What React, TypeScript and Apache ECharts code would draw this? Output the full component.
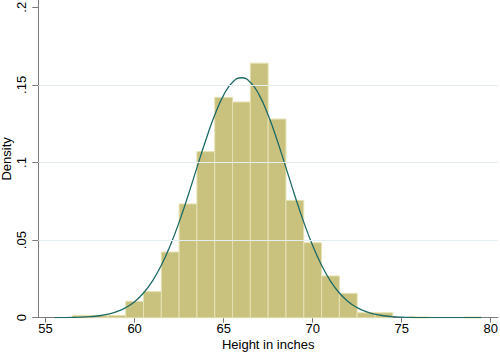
import React, { useEffect, useRef } from "react";
import * as echarts from "echarts";

// Histogram bins (width 1 inch), left edges and densities
const binWidth = 1;
const binStarts = [
  56.5, 57.5, 58.5, 59.5, 60.5, 61.5, 62.5, 63.5, 64.5, 65.5, 66.5, 67.5,
  68.5, 69.5, 70.5, 71.5, 72.5, 73.5, 74.5, 75.5, 76.5, 77.5, 78.5,
];
const densities = [
  0.0015, 0.0015, 0.0015, 0.0106, 0.0168, 0.0423, 0.0733, 0.107, 0.142,
  0.139, 0.164, 0.128, 0.0756, 0.0483, 0.0269, 0.0157, 0.0032, 0.0032, 0,
  0.0005, 0, 0, 0.0005,
];

// Normal density overlay
const curveX = [
  55.5, 56, 56.5, 57, 57.5, 58, 58.5, 59, 59.5, 60, 60.5, 61, 61.5, 62, 62.5,
  63, 63.5, 64, 64.5, 65, 65.5, 66, 66.5, 67, 67.5, 68, 68.5, 69, 69.5, 70,
  70.5, 71, 71.5, 72, 72.5, 73, 73.5, 74, 74.5, 75, 75.5, 76, 76.5, 77, 77.5,
  78, 78.5, 79, 79.5,
];
const curveY = [
  0.00004, 0.000085, 0.00018, 0.00035, 0.00068, 0.00126, 0.00226, 0.0039,
  0.00647, 0.0103, 0.0159, 0.0236, 0.0338, 0.0465, 0.0616, 0.0786, 0.0967,
  0.1145, 0.1306, 0.1434, 0.1517, 0.1546, 0.1517, 0.1434, 0.1306, 0.1145,
  0.0967, 0.0786, 0.0616, 0.0465, 0.0338, 0.0236, 0.0159, 0.0103, 0.00647,
  0.0039, 0.00226, 0.00126, 0.00068, 0.00035, 0.00018, 0.000085, 0.00004,
  0.00002, 0.00001, 0, 0, 0, 0,
];

const xTicks = [55, 60, 65, 70, 75, 80];
const yTicks = [0, 0.05, 0.1, 0.15, 0.2];
const yGrid = [0.05, 0.1, 0.15];

const FONT = "'Liberation Sans', Arial, Helvetica, sans-serif";

export default function App() {
  const ref = useRef<HTMLDivElement>(null);
  useEffect(() => {
    if (!ref.current) return;
    const chart = echarts.init(ref.current, null, { renderer: "svg" });
    const barData = binStarts
      .map((s, i) => [s, s + binWidth, densities[i]])
      .filter((d) => d[2] > 0);
    const axisColor = "#7a7a7a";
    chart.setOption({
      animation: false,
      grid: {
        left: 38.3,
        right: 2,
        top: 0,
        bottom: 38.3,
        containLabel: false,
        outerBoundsMode: "none",
      },
      xAxis: {
        type: "value",
        min: 54.59,
        max: 80.41,
        name: "Height in inches",
        nameLocation: "middle",
        nameGap: 20.5,
        nameMoveOverlap: false,
        nameTextStyle: {
          fontFamily: FONT,
          fontSize: 13,
          lineHeight: 12,
          color: "#000",
        },
        axisLine: { show: true, lineStyle: { color: axisColor, width: 1 } },
        axisTick: {
          show: true,
          length: 5,
          customValues: xTicks,
          lineStyle: { color: axisColor },
        },
        axisLabel: {
          customValues: xTicks,
          margin: 5,
          fontFamily: FONT,
          fontSize: 13,
          lineHeight: 12,
          color: "#000",
        },
        splitLine: { show: false },
      },
      yAxis: {
        type: "value",
        min: 0,
        max: 0.2047,
        name: "Density",
        nameLocation: "middle",
        nameGap: 25,
        nameMoveOverlap: false,
        nameTextStyle: { fontFamily: FONT, fontSize: 13, color: "#000" },
        axisLine: { show: true, lineStyle: { color: axisColor, width: 1 } },
        axisTick: {
          show: true,
          length: 6,
          customValues: yTicks,
          lineStyle: { color: axisColor },
        },
        axisLabel: {
          customValues: yTicks,
          rotate: 90,
          margin: 10,
          fontFamily: FONT,
          fontSize: 13,
          color: "#000",
          formatter: (v: number) =>
            v === 0 ? "0" : String(Math.round(v * 100) / 100).replace(/^0/, ""),
        },
        splitLine: { show: false },
      },
      series: [
        {
          type: "line",
          data: [],
          z: 0,
          silent: true,
          markLine: {
            silent: true,
            symbol: "none",
            label: { show: false },
            lineStyle: { type: "solid", color: "#E4EEF1", width: 1 },
            data: yGrid.map((v) => ({ yAxis: v })),
          },
        },
        {
          type: "custom",
          z: 2,
          data: barData,
          encode: { x: [0, 1], y: 2 },
          renderItem: (params: any, api: any) => {
            const p0 = api.coord([api.value(0), api.value(2)]);
            const p1 = api.coord([api.value(1), 0]);
            return {
              type: "rect",
              shape: {
                x: p0[0],
                y: p0[1],
                width: p1[0] - p0[0],
                height: p1[1] - p0[1],
              },
              style: { fill: "#C9C27F", stroke: "#E6E1B2", lineWidth: 1 },
            };
          },
        },
        {
          type: "line",
          z: 3,
          data: curveX.map((x, i) => [x, curveY[i]]),
          smooth: true,
          showSymbol: false,
          lineStyle: { color: "#1E6B66", width: 1.3 },
        },
      ],
    });
    return () => chart.dispose();
  }, []);
  return (
    <div
      ref={ref}
      style={{ position: "absolute", left: 0, top: 0, width: 500, height: 356 }}
    />
  );
}
